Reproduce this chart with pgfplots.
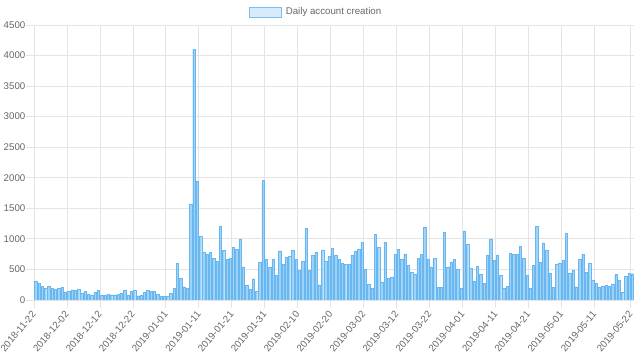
\documentclass[border=0pt]{standalone}
\usepackage{fontspec}
\setmainfont{Liberation Sans}
\usepackage{pgfplots}
\pgfplotsset{compat=1.18}
\definecolor{barfill}{RGB}{158,210,246}
\definecolor{barline}{RGB}{105,183,240}
\definecolor{legline}{RGB}{120,190,240}
\definecolor{legfill}{RGB}{215,236,251}
\definecolor{gridc}{RGB}{228,228,228}
\definecolor{txt}{RGB}{102,102,102}
\pgfplotstableread{
x y
0 311
1 268
2 224
3 191
4 224
5 191
6 175
7 191
8 207
9 126
10 142
11 169
12 158
13 175
14 115
15 142
16 93
17 87
18 126
19 158
20 76
21 76
22 93
23 87
24 87
25 98
26 115
27 164
28 76
29 137
30 164
31 71
32 82
33 126
34 153
35 142
36 142
37 98
38 55
39 66
40 55
41 109
42 197
43 595
44 355
45 218
46 186
47 1572
48 4100
49 1950
50 1037
51 781
52 748
53 781
54 683
55 628
56 1212
57 814
58 661
59 683
60 857
61 830
62 988
63 541
64 240
65 175
66 349
67 142
68 612
69 1955
70 666
71 541
72 672
73 410
74 803
75 579
76 704
77 710
78 814
79 661
80 491
81 628
82 1168
83 491
84 726
85 775
86 251
87 819
88 628
89 715
90 843
91 726
92 661
93 606
94 590
95 584
96 737
97 803
98 830
99 945
100 497
101 262
102 191
103 1070
104 863
105 300
106 939
107 355
108 371
109 743
110 830
111 672
112 753
113 562
114 448
115 426
116 677
117 748
118 1185
119 672
120 541
121 683
122 202
123 207
124 1108
125 541
126 622
127 661
128 502
129 186
130 1130
131 906
132 519
133 311
134 551
135 420
136 273
137 737
138 994
139 644
140 737
141 399
142 191
143 224
144 764
145 743
146 748
147 879
148 677
149 404
150 197
151 568
152 1201
153 622
154 934
155 819
156 442
157 202
158 579
159 606
160 655
161 1097
162 442
163 491
164 218
165 666
166 743
167 448
168 595
169 317
170 268
171 207
172 224
173 240
174 224
175 262
176 420
177 322
178 131
179 388
180 437
181 431
}\datatable
\begin{document}
\begin{tikzpicture}
\begin{axis}[
  width=600bp, height=275bp, scale only axis,
  xmin=-0.5, xmax=181.5, ymin=0, ymax=4500,
  ybar, bar width=0.72,
  axis x line*=bottom, axis y line*=left,
  axis line style={draw=gridc, -},
  ytick={0,500,1000,1500,2000,2500,3000,3500,4000,4500},
  ymajorgrids, major grid style={draw=gridc, line width=0.8bp},
  tick align=outside, major tick length=8bp,
  ytick style={draw=gridc, line width=0.8bp},
  xtick={0,10,20,30,40,50,60,70,80,90,100,110,120,130,140,150,160,170,181},
  xticklabels={2018-11-22,2018-12-02,2018-12-12,2018-12-22,2019-01-01,2019-01-11,2019-01-21,2019-01-31,2019-02-10,2019-02-20,2019-03-02,2019-03-12,2019-03-22,2019-04-01,2019-04-11,2019-04-21,2019-05-01,2019-05-11,2019-05-22},
  xtick style={draw=none},
  extra x ticks={-0.5,9.5,19.5,29.5,39.5,49.5,59.5,69.5,79.5,89.5,99.5,109.5,119.5,129.5,139.5,149.5,159.5,169.5,180.5},
  extra x tick labels={},
  extra x tick style={grid=major, xtick style={draw=gridc, line width=0.8bp}},
  xticklabel style={rotate=50, anchor=north east, inner sep=1bp, xshift=-3.5bp, yshift=3bp},
  yticklabel style={inner sep=0.5bp},
  ticklabel style={font=\fontsize{9.7bp}{11bp}\selectfont, text=txt},
  /pgf/number format/assume math mode=true,
  /pgf/number format/1000 sep={},
  legend style={at={(0.358,1.047)}, anchor=west, draw=none, fill=none,
    font=\fontsize{9.7bp}{11bp}\selectfont, text=txt, inner sep=0pt,
    nodes={inner xsep=4bp}},
  legend cell align=left,
]
\addplot[fill=barfill, draw=barline, line width=0.3bp,
  legend image code/.code={\draw[fill=legfill, draw=legline, line width=0.8bp] (0bp,-5bp) rectangle (32bp,5bp);}]
  table[x=x, y=y] {\datatable};
\addlegendentry{Daily account creation}
\end{axis}
\pgfresetboundingbox
\path ([shift={(-34bp,-61bp)}]current axis.south west) rectangle ([shift={(6bp,25bp)}]current axis.north east);
\end{tikzpicture}
\end{document}
